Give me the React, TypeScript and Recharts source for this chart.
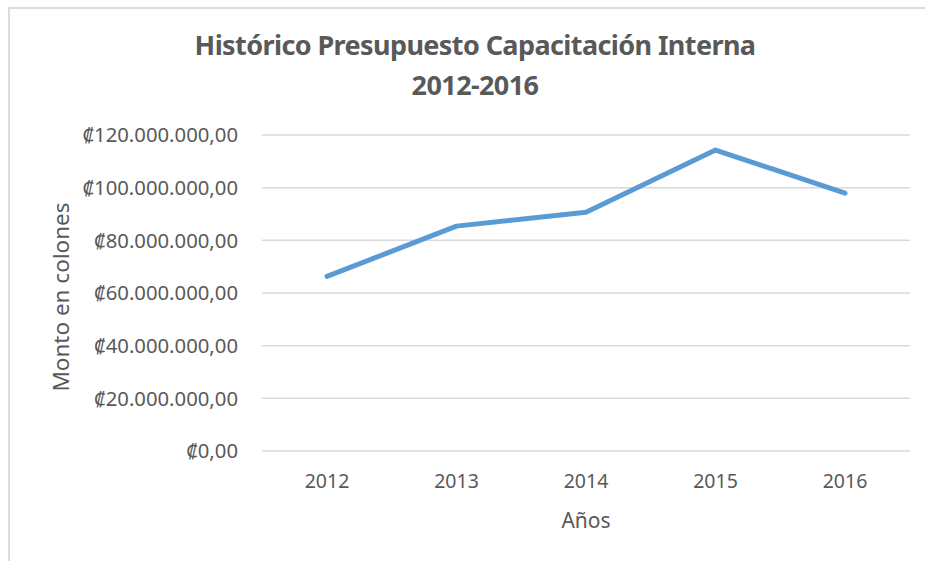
import React from 'react';
import { LineChart, Line, XAxis, YAxis, CartesianGrid } from 'recharts';

const years = ['2012', '2013', '2014', '2015', '2016'];
const budget = [66300000, 85400000, 90700000, 114300000, 97900000];
const yTicks = [0, 20000000, 40000000, 60000000, 80000000, 100000000, 120000000];

const data = years.map((y, i) => ({ year: y, value: budget[i] }));

const FONT = "'Noto Sans', 'DejaVu Sans', sans-serif";
const TEXT = '#595959';

const fmt = (v: number) => {
  const s = Math.round(v).toString().replace(/\B(?=(\d{3})+(?!\d))/g, '.');
  return '\u20A1' + s + ',00';
};

export default function App() {
  return (
    <div
      style={{
        position: 'fixed',
        left: 8,
        top: 7,
        width: 930,
        height: 570,
        borderTop: '2px solid #dcdcdc',
        borderLeft: '2px solid #dcdcdc',
        boxSizing: 'border-box',
        fontFamily: FONT,
        overflow: 'hidden',
        background: '#fff',
      }}
    >
      <div
        style={{
          position: 'absolute',
          left: 0,
          width: 917,
          top: 16,
          textAlign: 'center',
          paddingLeft: 13,
          boxSizing: 'border-box',
          fontWeight: 'bold',
          fontSize: 27,
          lineHeight: '40px',
          color: TEXT,
          letterSpacing: -0.6,
        }}
      >
        <div>Histórico Presupuesto Capacitación Interna</div>
        <div>2012-2016</div>
      </div>
      <div
        style={{
          position: 'absolute',
          left: 50,
          top: 288,
          width: 0,
          height: 0,
        }}
      >
        <div
          style={{
            position: 'absolute',
            transform: 'translate(-50%, -50%) rotate(-90deg)',
            whiteSpace: 'nowrap',
            fontSize: 22.5,
            color: TEXT,
          }}
        >
          Monto en colones
        </div>
      </div>
      <div
        style={{
          position: 'absolute',
          left: 576,
          top: 511,
          width: 0,
          height: 0,
        }}
      >
        <div
          style={{
            position: 'absolute',
            transform: 'translate(-50%, -50%)',
            whiteSpace: 'nowrap',
            fontSize: 21,
            color: TEXT,
          }}
        >
          Años
        </div>
      </div>
      <div style={{ position: 'absolute', left: -2, top: -1 }}>
        <LineChart
          width={917}
          height={553}
          data={data}
          margin={{ top: 127, right: 15, bottom: 50, left: 0 }}
        >
          <CartesianGrid vertical={false} stroke="#d9d9d9" strokeWidth={1.5} />
          <XAxis
            dataKey="year"
            height={60}
            axisLine={false}
            tickLine={false}
            tickSize={0}
            tickMargin={23}
            padding={{ left: 65, right: 65 }}
            tick={{ fill: TEXT, fontSize: 19.5, fontFamily: FONT }}
          />
          <YAxis
            width={254}
            domain={[0, 120000000]}
            ticks={yTicks}
            tickFormatter={fmt}
            axisLine={false}
            tickLine={false}
            tickSize={0}
            tickMargin={24}
            tick={{ fill: TEXT, fontSize: 20.3, fontFamily: FONT }}
          />
          <Line
            type="linear"
            dataKey="value"
            stroke="#5b9bd5"
            strokeWidth={5}
            strokeLinecap="round"
            strokeLinejoin="round"
            dot={false}
            activeDot={false}
            isAnimationActive={false}
          />
        </LineChart>
      </div>
    </div>
  );
}
